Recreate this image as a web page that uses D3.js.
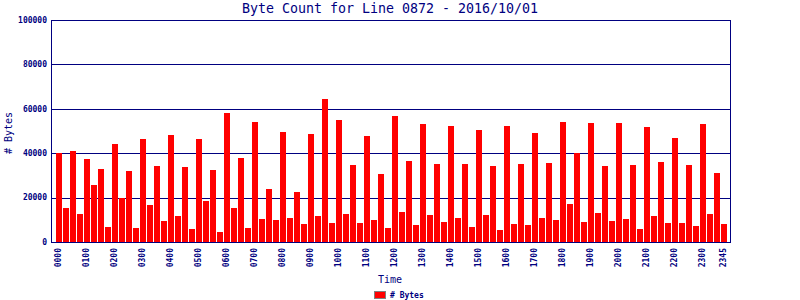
<!DOCTYPE html>
<html>
<head>
<meta charset="utf-8">
<script src="https://cdn.jsdelivr.net/npm/d3@7"></script>
<style>
  body { margin: 0; background: #fff; }
  svg { display: block; }
  text { font-family: "DejaVu Sans Mono", monospace; fill: #000080; }
</style>
</head>
<body>
<div id="chart"></div>
<script>
// time slots, 15 minutes each
const times = [
  "0000","0015","0030","0045","0100","0115","0130","0145",
  "0200","0215","0230","0245","0300","0315","0330","0345",
  "0400","0415","0430","0445","0500","0515","0530","0545",
  "0600","0615","0630","0645","0700","0715","0730","0745",
  "0800","0815","0830","0845","0900","0915","0930","0945",
  "1000","1015","1030","1045","1100","1115","1130","1145",
  "1200","1215","1230","1245","1300","1315","1330","1345",
  "1400","1415","1430","1445","1500","1515","1530","1545",
  "1600","1615","1630","1645","1700","1715","1730","1745",
  "1800","1815","1830","1845","1900","1915","1930","1945",
  "2000","2015","2030","2045","2100","2115","2130","2145",
  "2200","2215","2230","2245","2300","2315","2330","2345"
];

// # Bytes per slot
const bytes = [
  40000, 15300, 41000, 12600, 37400, 25700, 32900, 6700,
  44100, 19900, 32000, 6300, 46400, 16700, 34200, 9500,
  48200, 11700, 33800, 5900, 46400, 18500, 32400, 4500,
  58100, 15300, 37800, 6300, 54000, 10400, 23900, 9900,
  49500, 10800, 22500, 8100, 48600, 11700, 64400, 8600,
  55000, 12600, 34700, 8600, 47700, 9900, 30600, 6300,
  56800, 13500, 36500, 7700, 53200, 12200, 35100, 9000,
  52300, 10800, 35100, 6800, 50500, 12200, 34200, 5400,
  52300, 8100, 35100, 7700, 49100, 10800, 35600, 9900,
  54000, 17100, 40100, 9000, 53600, 13100, 34200, 9500,
  53600, 10400, 34700, 5900, 51800, 11700, 36000, 8600,
  46800, 8600, 34700, 7200, 53200, 12600, 31100, 8100
];

const tickLabels = [
  "0000","0100","0200","0300","0400","0500","0600","0700",
  "0800","0900","1000","1100","1200","1300","1400","1500",
  "1600","1700","1800","1900","2000","2100","2200","2300","2345"
];
const yTicks = [0, 20000, 40000, 60000, 80000, 100000];

const title = "Byte Count for Line 0872 - 2016/10/01";
const seriesName = "# Bytes";

const width = 800, height = 300;
const plot = { left: 51, right: 730, top: 20, bottom: 242 };
const navy = "#000080";

const svg = d3.select("#chart").append("svg")
  .attr("width", width)
  .attr("height", height)
  .attr("shape-rendering", "crispEdges");

const x = d3.scaleBand()
  .domain(times)
  .range([56, 727])
  .paddingInner(1 / 7)
  .paddingOuter(0);

const y = d3.scaleLinear()
  .domain([0, 100000])
  .range([plot.bottom, plot.top]);

// grid lines
svg.append("g").selectAll("line")
  .data(yTicks)
  .join("line")
  .attr("x1", plot.left).attr("x2", plot.right + 1)
  .attr("y1", d => Math.round(y(d)) + 0.5)
  .attr("y2", d => Math.round(y(d)) + 0.5)
  .attr("stroke", navy);

// bars
svg.append("g").selectAll("rect")
  .data(bytes)
  .join("rect")
  .attr("x", (d, i) => x(times[i]))
  .attr("width", x.bandwidth())
  .attr("y", d => y(d))
  .attr("height", d => plot.bottom - y(d))
  .attr("fill", "#ff0000");

// left / right frame lines
svg.append("line")
  .attr("x1", plot.left + 0.5).attr("x2", plot.left + 0.5)
  .attr("y1", plot.top).attr("y2", plot.bottom + 1)
  .attr("stroke", navy);
svg.append("line")
  .attr("x1", plot.right + 0.5).attr("x2", plot.right + 0.5)
  .attr("y1", plot.top).attr("y2", plot.bottom + 1)
  .attr("stroke", navy);

// y tick labels
svg.append("g").selectAll("text")
  .data(yTicks)
  .join("text")
  .attr("x", 47)
  .attr("y", d => y(d))
  .attr("dy", "0.35em")
  .attr("text-anchor", "end")
  .style("font-size", "8px")
  .style("font-weight", "bold")
  .text(d => d);

// x tick labels (rotated)
svg.append("g").selectAll("text")
  .data(tickLabels)
  .join("text")
  .attr("transform", d => `translate(${x(d) + x.bandwidth() / 2 - 0.5},248) rotate(-90)`)
  .attr("text-anchor", "end")
  .attr("dy", "0.35em")
  .style("font-size", "8px")
  .style("font-weight", "bold")
  .text(d => d);

// title
svg.append("text")
  .attr("x", 390)
  .attr("y", 13)
  .attr("text-anchor", "middle")
  .style("font-size", "13.3px")
  .text(title);

// axis titles
svg.append("text")
  .attr("transform", "translate(12,133) rotate(-90)")
  .attr("text-anchor", "middle")
  .style("font-size", "10px")
  .text("# Bytes");

svg.append("text")
  .attr("x", 390)
  .attr("y", 283)
  .attr("text-anchor", "middle")
  .style("font-size", "10px")
  .text("Time");

// legend
svg.append("rect")
  .attr("x", 374.5).attr("y", 291.5)
  .attr("width", 11).attr("height", 7)
  .attr("fill", "#ff0000")
  .attr("stroke", "#808080");
svg.append("text")
  .attr("x", 390)
  .attr("y", 295)
  .attr("dy", "0.35em")
  .style("font-size", "8px")
  .style("font-weight", "bold")
  .text(seriesName);
</script>
</body>
</html>
